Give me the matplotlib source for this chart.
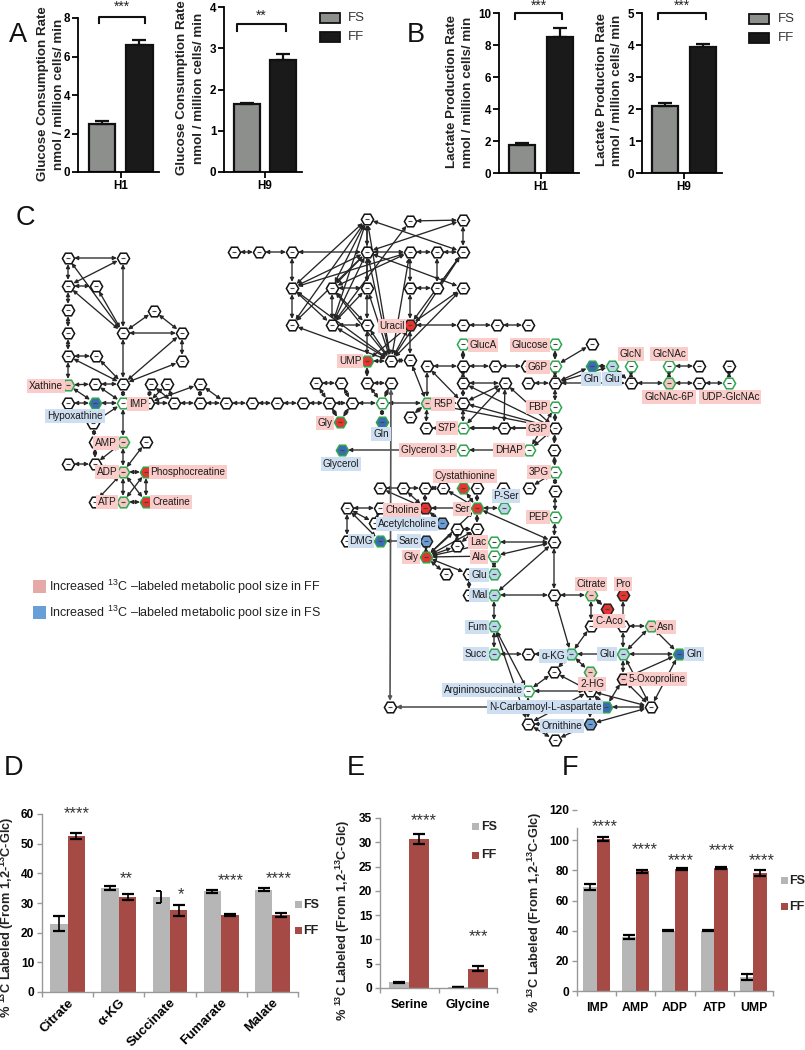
import matplotlib
matplotlib.use('Agg')
import matplotlib.pyplot as plt

W, H = 805, 1050

plt.rcParams['font.family'] = ['Liberation Sans', 'DejaVu Sans']
plt.rcParams['mathtext.fontset'] = 'custom'
plt.rcParams['mathtext.rm'] = 'Liberation Sans'
plt.rcParams['mathtext.bf'] = 'Liberation Sans:bold'

# panels A, B
groups = ['FS', 'FF']
glucose_h1, glucose_h1_err = [2.5, 6.6], [0.13, 0.27]
glucose_h9, glucose_h9_err = [1.65, 2.72], [0.03, 0.15]
lactate_h1, lactate_h1_err = [1.78, 8.5], [0.1, 0.55]
lactate_h9, lactate_h9_err = [2.1, 3.95], [0.1, 0.09]

# panel D
d_names = ['Citrate', 'α-KG', 'Succinate', 'Fumarate', 'Malate']
d_fs = [23, 35, 32, 34, 34.5]
d_fs_err = [2.5, 0.7, 1.9, 0.5, 0.5]
d_ff = [52.5, 32, 27.5, 26, 26]
d_ff_err = [1.0, 1.0, 1.8, 0.3, 0.7]

# panel E
e_names = ['Serine', 'Glycine']
e_fs = [1.2, 0.15]
e_fs_err = [0.1, 0.03]
e_ff = [30.7, 4.0]
e_ff_err = [1.1, 0.6]

# panel F
f_names = ['IMP', 'AMP', 'ADP', 'ATP', 'UMP']
f_fs = [69, 36, 40, 40, 9]
f_fs_err = [2, 1.3, 0.5, 0.5, 2]
f_ff = [100.5, 79.5, 81, 81.5, 78]
f_ff_err = [1.3, 1, 0.7, 0.5, 2]

# panel C network, node tables in picture pixels, one table per look
plain_nodes = {
    'a1': (68, 258), 'a2': (123, 258), 'a3': (68, 286), 'a4': (96, 286), 'a5': (68, 310),
    'a6': (68, 333), 'a7': (123, 333), 'a8': (154, 311), 'a9': (182, 333), 'a10': (182, 361),
    'a11': (68, 356), 'a12': (96, 356), 'a14': (95, 384), 'a15': (123, 384), 'a16': (68, 403),
    'a19': (93, 423), 'a20': (95, 442), 'a22': (146, 442), 'a23': (68, 464), 'a24': (95, 464),
    'a29': (95, 502), 'b1': (151, 384), 'b2': (167, 384), 'b3': (200, 384), 'b4': (148, 403),
    'b5': (174, 403), 'b6': (200, 403), 'b7': (226, 403), 'b8': (252, 403), 'b9': (277, 403),
    'b10': (303, 403), 'b11': (329, 403), 'b12': (352, 403), 'c1': (316, 383), 'c2': (341, 383),
    'e1': (367, 383), 'e2': (391, 383), 'e3': (391, 361),
    'f1': (234, 252), 'f2': (259, 252), 'f3': (292, 252), 'f4': (367, 252), 'f5': (367, 219),
    'f6': (292, 288), 'f7': (332, 288), 'f8': (367, 288), 'f9': (292, 325), 'f10': (332, 325),
    'f11': (367, 325), 'g1': (410, 221), 'g2': (463, 220), 'g3': (410, 252), 'g4': (437, 252),
    'g5': (463, 252), 'g6': (410, 288), 'g7': (437, 288), 'g8': (463, 288), 'h1': (463, 325),
    'h2': (497, 325), 'h3': (528, 325), 'i1': (410, 360), 'j1': (427, 366), 'j2': (463, 366),
    'j3': (495, 366), 'j4': (527, 366), 'k1': (592, 344), 'l1': (699, 366), 'l2': (729, 366),
    'm1': (555, 383), 'm2': (528, 383), 'n1': (631, 383), 'l3': (699, 383), 'o1': (463, 383),
    'o2': (505, 383), 'o3': (463, 403), 'p1': (410, 417), 's7': (426, 428), 'q2': (504, 428),
    'g3p': (555, 428), 'r1': (554, 450), 's1': (555, 491), 't1': (380, 488), 't2': (403, 488),
    't3': (425, 488), 't4': (443, 488), 't5': (477, 488), 't6': (503, 488), 't7': (529, 488),
    'u1': (347, 508), 'u2': (380, 508), 'v0': (375, 523), 'w1': (457, 529), 'w2': (477, 529),
    'w3': (457, 546), 'v1': (347, 541), 'x1': (446, 574), 'x2': (469, 574), 'x3': (469, 595),
    'y1': (554, 542), 'y2': (554, 595), 'z1': (591, 626), 'z2': (623, 626), 'z3': (528, 654),
    'z4': (554, 672), 'z5': (590, 691), 'z6': (390, 707), 'z7': (651, 707), 'z8': (528, 724),
    'z9': (555, 740),
}
green_nodes = {
    'imp': (123, 403), 'd1': (382, 403), 'g6p': (555, 366), 'glucose': (555, 344), 'gluca': (463, 344),
    'glcn': (631, 366), 'glcnac': (669, 366), 'udp': (729, 383), 'fbp': (555, 407), 'q1': (463, 428),
    'dhap': (529, 450), 'gly3p': (463, 450), 'pg3': (555, 472), 'pep': (555, 517), 'lac': (494, 542),
    'ala': (494, 556), 'argino': (528, 691),
}
pink_green_nodes = {
    'xath': (68, 385), 'amp': (123, 442), 'adp': (123, 472), 'atp': (123, 502), 'r5p': (427, 403),
    'nac6p': (669, 383), 'citrate': (591, 595), 'asn': (651, 626), 'hg2': (590, 672),
}
red_green_nodes = {
    'pcr': (146, 472), 'cre': (146, 502), 'ump': (367, 361), 'gly1': (340, 422), 'cyst': (463, 488),
    'ser': (477, 508), 'gly2': (426, 557),
}
red_nodes = {
    'uracil': (410, 325), 'choline': (425, 508), 'pro': (623, 595), 'caco': (607, 609),
}
blue_green_nodes = {
    'hypo': (95, 403), 'gln1': (382, 422), 'glycerol': (342, 450), 'gln2': (592, 366), 'dmg': (380, 541),
    'gln3': (679, 654), 'ncarb': (606, 707),
}
blue_nodes = {
    'ach': (442, 523), 'sarc': (426, 541), 'orn': (590, 724),
}
pale_green_nodes = {
    'glu2': (612, 366), 'pser': (504, 508), 'glu3': (494, 574), 'mal': (494, 595), 'fum': (494, 626),
    'succ': (494, 654), 'akg': (571, 654), 'glu4': (623, 654),
}
oxo_nodes = {'oxo': (623, 679)}

left_edges = [
    ('a1', 'a2'), ('a1', 'a3'), ('a2', 'a7'), ('a2', 'a3'), ('a1', 'a7'), ('a3', 'a4'), ('a3', 'a7'),
    ('a4', 'a7'), ('a3', 'a5'), ('a5', 'a6'), ('a6', 'a11'), ('a11', 'a12'), ('a11', 'a15'), ('a12', 'a15'),
    ('a7', 'a8'), ('a8', 'a9'), ('a7', 'a9'), ('a9', 'a10'), ('a9', 'a15'), ('a10', 'a15'), ('a7', 'a15'),
    ('a11', 'xath'), ('xath', 'a14'), ('a14', 'a15'), ('xath', 'hypo'), ('a14', 'imp'), ('a15', 'imp'),
    ('a16', 'hypo'), ('hypo', 'imp'), ('imp', 'b4'), ('imp', 'a19'), ('a19', 'a20'), ('imp', 'amp'),
    ('a20', 'amp'), ('a20', 'a24'), ('amp', 'a24'), ('amp', 'adp'), ('a22', 'adp'), ('a23', 'a24'),
    ('a24', 'adp'), ('adp', 'pcr'), ('adp', 'cre'), ('adp', 'a29'), ('adp', 'atp'), ('atp', 'pcr'),
    ('pcr', 'cre'), ('atp', 'cre'), ('a29', 'atp'),
]
chain_edges = [
    ('b4', 'b5'), ('b5', 'b6'), ('b6', 'b7'), ('b7', 'b8'), ('b8', 'b9'), ('b9', 'b10'), ('b10', 'b11'),
    ('b11', 'b12'), ('b1', 'b4'), ('b2', 'b4'), ('b1', 'b5'), ('b2', 'b5'), ('b3', 'b4'), ('b3', 'b6'),
    ('b3', 'b7'), ('c1', 'c2'), ('c1', 'b11'), ('c2', 'b12'), ('b11', 'gly1'), ('b12', 'gly1'), ('b12', 'd1'),
    ('e1', 'd1'), ('e2', 'd1'), ('d1', 'gln1'), ('e1', 'e2'), ('e1', 'ump'), ('d1', 'r5p'),
]
top_edges = [
    ('f1', 'f2'), ('f2', 'f3'), ('f3', 'f4'), ('f3', 'f6'), ('f6', 'f9'), ('f4', 'f5'), ('f4', 'f8'),
    ('f8', 'f11'), ('f7', 'f8'), ('f10', 'f11'), ('f7', 'f10'), ('f5', 'f6'), ('f5', 'f7'), ('f5', 'f9'),
    ('f5', 'f10'), ('f5', 'f8'), ('f4', 'f6'), ('f4', 'f7'), ('f4', 'f9'), ('f4', 'f10'), ('f6', 'f10'),
    ('f6', 'e3'), ('f7', 'e3'), ('f9', 'e3'), ('f10', 'e3'), ('f11', 'e3'), ('f8', 'e3'), ('f4', 'e3'),
    ('f5', 'e3'), ('f8', 'f10'), ('f7', 'f11'), ('f11', 'ump'), ('ump', 'e3'), ('e3', 'i1'), ('g3', 'f4'),
    ('g3', 'g4'), ('g4', 'g5'), ('g1', 'g2'), ('g2', 'g5'), ('g1', 'f10'), ('g2', 'f4'), ('f5', 'g5'),
    ('f4', 'g8'), ('g3', 'g6'), ('g6', 'uracil'), ('g6', 'g7'), ('g7', 'g5'), ('g4', 'g7'), ('uracil', 'g5'),
    ('uracil', 'g8'), ('uracil', 'e3'), ('g3', 'f7'), ('g3', 'f6'), ('g5', 'e3'), ('g8', 'e3'), ('uracil', 'i1'),
    ('uracil', 'h1'), ('h1', 'h2'), ('h2', 'h3'), ('uracil', 'ump'), ('i1', 'r5p'), ('g3', 'e3'),
]
right_edges = [
    ('j1', 'j2'), ('j2', 'j3'), ('j3', 'j4'), ('j4', 'g6p'), ('gluca', 'j2'), ('j1', 'r5p'), ('j1', 'o3'),
    ('j2', 'o1'), ('o1', 'o2'), ('o1', 'o3'), ('o2', 'o3'), ('o2', 'q1'), ('o2', 'q2'), ('o2', 'g3p'),
    ('o1', 'g3p'), ('o3', 'q1'), ('o3', 'g3p'), ('r5p', 'g3p'), ('r5p', 'o3'), ('r5p', 'p1'), ('r5p', 's7'),
    ('s7', 'q1'), ('q1', 'q2'), ('q1', 'g3p'), ('q2', 'g3p'), ('m1', 'm2'), ('g6p', 'm1'), ('glucose', 'g6p'),
    ('k1', 'g6p'), ('m1', 'gln2'), ('m1', 'glu2'), ('m1', 'n1'), ('gln2', 'glu2'), ('glu2', 'n1'),
    ('glcn', 'n1'), ('glcnac', 'nac6p'), ('l1', 'glcnac'), ('nac6p', 'l3'), ('n1', 'nac6p'), ('l3', 'udp'),
    ('l2', 'udp'), ('m1', 'fbp'), ('fbp', 'g3p'), ('g3p', 'r1'), ('r1', 'pg3'), ('pg3', 's1'), ('s1', 'pep'),
    ('g3p', 'dhap'), ('fbp', 'dhap'), ('dhap', 'gly3p'), ('gly3p', 'glycerol'),
]
lower_edges = [
    ('pep', 'y1'), ('y1', 'y2'), ('y1', 'lac'), ('y1', 'ala'), ('y1', 'mal'), ('y1', 'ser'), ('y2', 'mal'),
    ('y2', 'citrate'), ('y2', 'akg'), ('pg3', 't7'), ('pser', 'ser'), ('t1', 'choline'), ('t2', 'choline'),
    ('t3', 'choline'), ('t1', 't3'), ('t3', 't4'), ('t4', 'ser'), ('cyst', 'ser'), ('t5', 'ser'),
    ('ser', 'choline'), ('choline', 'u2'), ('u1', 'u2'), ('u1', 'v1'), ('u1', 'v0'), ('u1', 'dmg'), ('u2', 'v0'),
    ('v1', 'dmg'), ('dmg', 'sarc'), ('sarc', 'gly2'), ('choline', 'ach'), ('ser', 'w2'), ('ser', 'gly2'),
    ('w1', 'w2'), ('w1', 'w3'), ('w2', 'w3'), ('w1', 'gly2'), ('w2', 'gly2'), ('w3', 'gly2'), ('lac', 'gly2'),
    ('ala', 'gly2'), ('gly2', 'x1'), ('gly2', 'x2'), ('x2', 'glu3'), ('x2', 'x3'), ('x3', 'mal'), ('ala', 'glu3'),
    ('mal', 'fum'), ('fum', 'succ'), ('succ', 'z3'), ('z3', 'akg'), ('akg', 'glu4'), ('akg', 'z1'), ('akg', 'hg2'),
    ('akg', 'z4'), ('citrate', 'caco'), ('citrate', 'z1'), ('pro', 'z2'), ('z2', 'asn'), ('z2', 'glu4'),
    ('asn', 'glu4'), ('asn', 'gln3'), ('glu4', 'gln3'), ('glu4', 'oxo'), ('glu4', 'z7'), ('oxo', 'z7'),
    ('gln3', 'z7'), ('gln3', 'oxo'), ('z4', 'argino'), ('z4', 'z5'), ('argino', 'z5'), ('argino', 'z8'),
    ('fum', 'argino'), ('fum', 'z8'), ('z5', 'ncarb'), ('z5', 'z7'), ('ncarb', 'z7'),
    ('oxo', 'ncarb'), ('z8', 'orn'), ('z8', 'z9'), ('z9', 'orn'), ('orn', 'z7'), ('orn', 'z5'), ('z8', 'z5'),
]
# these two run the long way down the figure and print greyer
long_edges = [('e2', 'z6'), ('ncarb', 'z6')]

pink_labels = [
    ('Xathine', 46, 386), ('IMP', 138, 404), ('AMP', 106, 443), ('ADP', 107, 472), ('Phosphocreatine', 188, 472),
    ('ATP', 107, 502), ('Creatine', 171, 502), ('UMP', 350, 361), ('Gly', 325, 423), ('Uracil', 392, 326),
    ('GlucA', 483, 345), ('Glucose', 530, 345), ('G6P', 538, 367), ('R5P', 443, 404), ('S7P', 447, 428),
    ('FBP', 538, 407), ('G3P', 538, 429), ('Glycerol 3-P', 428, 450), ('DHAP', 509, 450), ('3PG', 539, 472),
    ('PEP', 538, 517), ('Cystathionine', 465, 476), ('GlcN', 631, 354), ('GlcNAc', 669, 354),
    ('GlcNAc-6P', 669, 397), ('UDP-GlcNAc', 730, 397), ('Choline', 402, 510), ('Ser', 462, 509), ('Gly', 411, 557),
    ('Lac', 478, 542), ('Ala', 479, 557), ('Citrate', 591, 584), ('Pro', 623, 584), ('C-Aco', 609, 621),
    ('Asn', 666, 627), ('5-Oxoproline', 657, 679), ('2-HG', 592, 684),
]
blue_labels = [
    ('Hypoxathine', 75, 416), ('Gln', 381, 434), ('Glycerol', 341, 464), ('P-Ser', 506, 496), ('Gln', 591, 379),
    ('Glu', 612, 379), ('Acetylcholine', 407, 524), ('DMG', 361, 541), ('Sarc', 409, 541), ('Glu', 479, 575),
    ('Mal', 479, 595), ('Fum', 477, 627), ('Succ', 476, 654), ('α-KG', 553, 656), ('Glu', 607, 654),
    ('Gln', 694, 654), ('Argininosuccinate', 483, 690), ('N-Carbamoyl-L-aspartate', 545, 707), ('Ornithine', 562, 726),
]

FS_GREY = '#8c8f8c'
FF_BLACK = '#1a1a1a'
PALE_GREY = '#b6b6b6'
BRICK = '#a64a45'
GREEN = '#2fa64e'
RED = '#e8332f'
BLUE = '#3a6cb4'
PALE_BLUE = '#bdd5ec'
PINK = '#f6c6c2'
LABEL_PINK = '#fbcdca'
LABEL_BLUE = '#cfdff2'


def px_axes(fig, left, top, right, bottom):
    return fig.add_axes([left / W, 1 - bottom / H, (right - left) / W, (bottom - top) / H])


def prism_bars(fig, box, values, errs, ymax, yticks, name):
    """GraphPad style pair of bars"""
    ax = px_axes(fig, *box)
    ax.patch.set_visible(False)
    colors = [FS_GREY, FF_BLACK]
    ax.bar([0, 1], values, width=0.7, color=colors, edgecolor='#111111', linewidth=1.6)
    ax.errorbar([0, 1], values, yerr=[[0, 0], errs], fmt='none', ecolor='#111111',
                elinewidth=1.6, capsize=5, capthick=1.6)
    ax.set_xlim(-0.63, 1.52)
    ax.set_ylim(0, ymax)
    ax.set_yticks(yticks)
    ax.set_xticks([0.5], [name])
    ax.tick_params(axis='both', width=1.3, length=4, labelsize=8.4, pad=1.5)
    for lab in ax.get_xticklabels() + ax.get_yticklabels():
        lab.set_fontweight('bold')
    for side in ['top', 'right']:
        ax.spines[side].set_visible(False)
    for side in ['left', 'bottom']:
        ax.spines[side].set_linewidth(1.3)
    return ax


def labeled_bars(fig, box, names, fs, fs_err, ff, ff_err, ymax, yticks, half_cap=None):
    """Excel style grouped bars, ticks fall between the groups"""
    ax = px_axes(fig, *box)
    ax.patch.set_visible(False)
    xs = list(range(len(names)))
    left = [x - 0.17 for x in xs]
    right = [x + 0.17 for x in xs]
    ax.bar(left, fs, width=0.34, color=PALE_GREY)
    ax.bar(right, ff, width=0.34, color=BRICK)
    for i in xs:
        if i == half_cap:
            # the right half of this whisker is missing in the original
            lo, hi = fs[i] - fs_err[i], fs[i] + fs_err[i]
            ax.vlines(left[i], lo, hi, color='black', lw=1.3)
            ax.hlines([lo, hi], left[i] - 0.11, left[i], color='black', lw=1.4)
        else:
            ax.errorbar(left[i], fs[i], yerr=fs_err[i], fmt='none', ecolor='black', elinewidth=1.2,
                        capsize=4, capthick=1.6)
    ax.errorbar(right, ff, yerr=ff_err, fmt='none', ecolor='black', elinewidth=1.2, capsize=4, capthick=1.6)
    ax.set_xlim(-0.5, len(names) - 0.5)
    ax.set_ylim(0, ymax)
    ax.set_yticks(yticks)
    ax.set_xticks([x - 0.5 for x in xs] + [len(names) - 0.5], [''] * (len(names) + 1))
    ax.set_xticks(xs, names, minor=True)
    ax.tick_params(axis='x', which='minor', length=0)
    ax.tick_params(axis='both', which='major', color='#999999', width=1, length=3.5, pad=2)
    for side in ['top', 'right']:
        ax.spines[side].set_visible(False)
    for side in ['left', 'bottom']:
        ax.spines[side].set_color('#999999')
        ax.spines[side].set_linewidth(1)
    return ax


def bracket(ov, x0, x1, top, bottom, stars, star_y):
    ov.plot([x0, x0, x1, x1], [bottom, top, top, bottom], color='#111111', lw=1.5)
    ov.text((x0 + x1) / 2, star_y, stars, ha='center', va='center', fontsize=10, color='#222222')


def star_text(ov, x, y, stars):
    ov.text(x, y, stars, ha='center', va='center', fontsize=12, color='#333333')


def legend_prism(ov, x, y1, y2, tx):
    for y, col, name in [(y1, FS_GREY, groups[0]), (y2, FF_BLACK, groups[1])]:
        ov.fill([x, x + 20, x + 20, x], [y, y, y + 10, y + 10], facecolor=col, edgecolor='#111111', lw=1.3)
        ov.text(tx, y + 5, name, va='center', fontsize=9.5, color='#333333')


def legend_flat(ov, x, y1, y2, tx):
    for y, col, name in [(y1, PALE_GREY, groups[0]), (y2, BRICK, groups[1])]:
        ov.fill([x, x + 7, x + 7, x], [y, y, y + 7, y + 7], facecolor=col, edgecolor='none')
        ov.text(tx, y + 3.5, name, va='center', fontsize=9, fontweight='bold', color='#222222')


def draw_nodes(ov, nodes, face, edge, lw=1.1, size=8.8):
    xs = [p[0] for p in nodes.values()]
    ys = [p[1] for p in nodes.values()]
    ov.plot(xs, ys, 'H', ms=size, mfc=face, mec=edge, mew=lw, ls='none', zorder=4)
    # the node names are too small to read in the original, only a smudge shows
    ov.plot(xs, ys, '_', ms=3.2, mec='#444444', mew=0.8, ls='none', zorder=4.5)


def draw_edges(ov, edges, nodes, color='#262626', lw=0.95):
    style = dict(arrowstyle='<|-|>,head_length=0.22,head_width=0.11', color=color, lw=lw,
                 shrinkA=4.4, shrinkB=4.4)
    for a, b in edges:
        ov.annotate('', xy=nodes[b], xytext=nodes[a], arrowprops=style, zorder=3)


def main():
    fig = plt.figure(figsize=(W / 100, H / 100), dpi=100)

    prism_bars(fig, (78, 18, 159, 172), glucose_h1, glucose_h1_err, 8, [0, 2, 4, 6, 8], 'H1')
    prism_bars(fig, (224, 7, 302, 172), glucose_h9, glucose_h9_err, 4, [0, 1, 2, 3, 4], 'H9')
    prism_bars(fig, (499, 13, 579, 173), lactate_h1, lactate_h1_err, 10, [0, 2, 4, 6, 8, 10], 'H1')
    prism_bars(fig, (642, 13, 722, 173), lactate_h9, lactate_h9_err, 5, [0, 1, 2, 3, 4, 5], 'H9')

    ax_d = labeled_bars(fig, (42, 814, 298, 992), d_names, d_fs, d_fs_err, d_ff, d_ff_err, 60, range(0, 61, 10),
                        half_cap=2)
    for lab in ax_d.get_yticklabels():
        lab.set_fontweight('bold')
        lab.set_fontsize(8.6)
    for lab in ax_d.get_xticklabels(minor=True):
        lab.set_rotation(45)
        lab.set_ha('right')
        lab.set_rotation_mode('anchor')
        lab.set_fontweight('bold')
        lab.set_fontsize(9.5)

    ax_e = labeled_bars(fig, (380, 818, 497, 988), e_names, e_fs, e_fs_err, e_ff, e_ff_err, 35, range(0, 36, 5))
    ax_f = labeled_bars(fig, (577, 810, 773, 991), f_names, f_fs, f_fs_err, f_ff, f_ff_err, 120, range(0, 121, 20))
    ax_f.spines['left'].set_bounds(0, 108)
    for ax in (ax_e, ax_f):
        for lab in ax.get_yticklabels():
            lab.set_fontweight('bold')
            lab.set_fontsize(8.6)
        for lab in ax.get_xticklabels(minor=True):
            lab.set_fontweight('bold')
            lab.set_fontsize(8.8)
        ax.tick_params(axis='x', which='minor', pad=8)

    ov = fig.add_axes([0, 0, 1, 1], zorder=10)
    ov.set_xlim(0, W)
    ov.set_ylim(H, 0)
    ov.axis('off')
    ov.patch.set_visible(False)

    # panel letters
    for letter, x, y in [('A', 9, 35), ('B', 407, 35), ('C', 16, 218), ('D', 4, 768), ('E', 347, 768), ('F', 562, 768)]:
        ov.text(x, y, letter, fontsize=19.5, va='center', color='#111111')

    # axis titles of the top row
    titles = [
        (43, 94, 'Glucose Consumption Rate'), (59, 94, 'nmol / million cells/ min'),
        (182, 88, 'Glucose Consumption Rate'), (199, 88, 'nmol / million cells/ min'),
        (452, 92, 'Lactate Production Rate'), (468, 92, 'nmol / million cells/ min'),
        (602, 90, 'Lactate Production Rate'), (617, 90, 'nmol / million cells/ min'),
    ]
    for x, y, txt in titles:
        ov.text(x, y, txt, rotation=90, ha='center', va='center', fontsize=9.6, fontweight='bold', color='#222222')

    bracket(ov, 99, 145, 17, 23, '***', 7)
    bracket(ov, 237, 286, 24, 31, '**', 16)
    bracket(ov, 515, 562, 13, 19, '***', 6)
    bracket(ov, 658, 706, 13, 19, '***', 6)
    legend_prism(ov, 320, 13, 32, 348)
    legend_prism(ov, 749, 14, 33, 778)

    # axis titles of the bottom row
    pct_label = r'% $\mathbf{^{13}}$C Labeled (From 1,2-$\mathbf{^{13}}$C-Glc)'
    for x, y in [(7, 917), (343, 920), (535, 912)]:
        ov.text(x, y, pct_label, rotation=90, ha='center', va='center', fontsize=9.2, fontweight='bold', color='#222222')

    for x, y, stars in [(77, 812, '****'), (126, 877, '**'), (181, 893, '*'), (231, 879, '****'), (279, 877, '****'),
                        (424, 819, '****'), (478, 935, '***'), (605, 825, '****'), (645, 848, '****'),
                        (681, 859, '****'), (722, 849, '****'), (762, 859, '****')]:
        star_text(ov, x, y + 2, stars)
    legend_flat(ov, 295, 901, 927, 303)
    legend_flat(ov, 472, 823, 852, 481)
    legend_flat(ov, 781, 877, 903, 789)

    # panel C key
    for y, col, name in [(580, '#e5a9a7', 'FF'), (606, '#689fd8', 'FS')]:
        ov.fill([33, 46, 46, 33], [y, y, y + 13, y + 13], facecolor=col, edgecolor='none')
        ov.text(49, y + 6.5, r'Increased $^{\mathrm{13}}$C –labeled metabolic pool size in ' + name,
                va='center', fontsize=9, color='#222222')

    # panel C network
    nodes = {}
    for table in (plain_nodes, green_nodes, pink_green_nodes, red_green_nodes, red_nodes,
                  blue_green_nodes, blue_nodes, pale_green_nodes, oxo_nodes):
        nodes.update(table)
    for edges in (left_edges, chain_edges, top_edges, right_edges, lower_edges):
        draw_edges(ov, edges, nodes)
    draw_edges(ov, long_edges, nodes, color='#555555', lw=1.2)

    draw_nodes(ov, plain_nodes, 'white', '#111111')
    draw_nodes(ov, green_nodes, 'white', GREEN)
    draw_nodes(ov, pink_green_nodes, PINK, GREEN)
    draw_nodes(ov, red_green_nodes, RED, GREEN)
    draw_nodes(ov, red_nodes, RED, '#222222')
    draw_nodes(ov, blue_green_nodes, BLUE, GREEN)
    draw_nodes(ov, blue_nodes, '#6d9dd6', '#222222')
    draw_nodes(ov, pale_green_nodes, PALE_BLUE, GREEN)
    draw_nodes(ov, oxo_nodes, PINK, '#111111')

    for labels, col in [(pink_labels, LABEL_PINK), (blue_labels, LABEL_BLUE)]:
        for txt, x, y in labels:
            ov.text(x, y, txt, ha='center', va='center', fontsize=7.2, color='#1a1a1a', zorder=6,
                    bbox=dict(facecolor=col, edgecolor='none', pad=1.2))

    fig.savefig('out.png', dpi=100)


if __name__ == '__main__':
    main()
